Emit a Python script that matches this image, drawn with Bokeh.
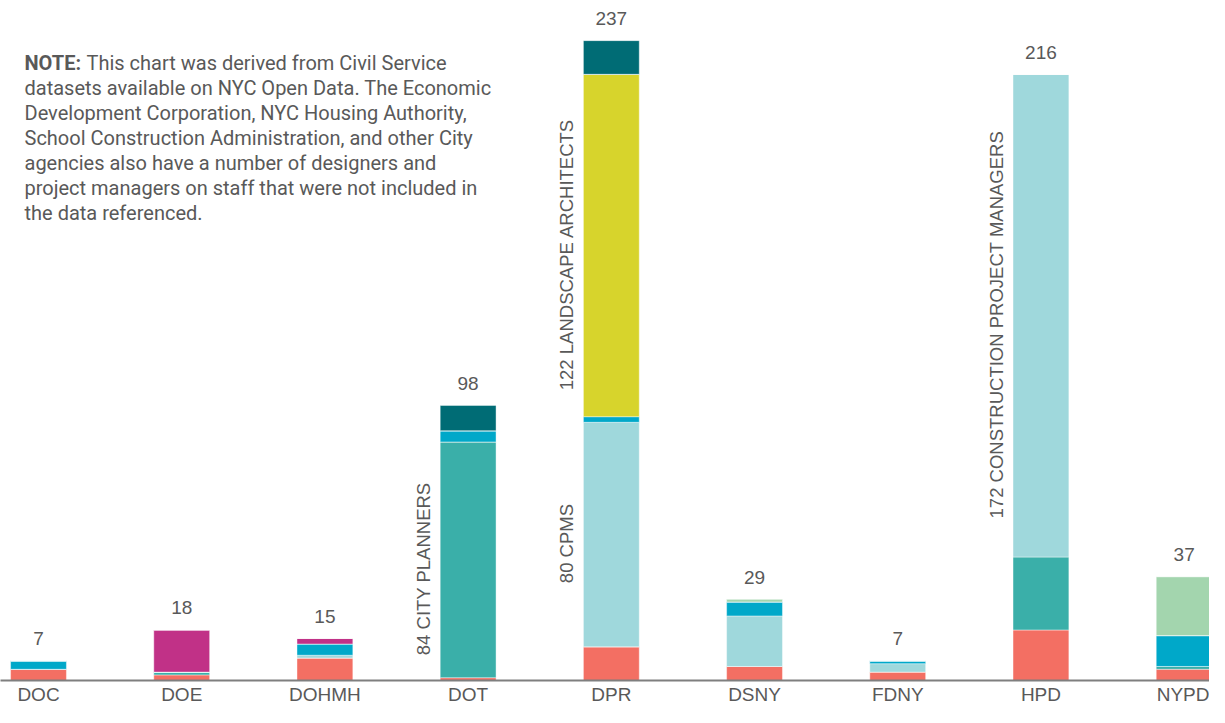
import math
from bokeh.plotting import figure
from bokeh.models import Range1d, FixedTicker, ColumnDataSource, Label
from bokeh.core.properties import value
from bokeh.embed import file_html
from bokeh.resources import INLINE

# ---------------- data ----------------
agencies = ["DOC", "DOE", "DOHMH", "DOT", "DPR", "DSNY", "FDNY", "HPD", "NYPD"]
coral = [4, 2, 8, 1, 12, 5, 3, 18, 4]
teal = [0, 1, 0, 84, 0, 0, 0, 26, 1]
lightblue = [0, 0, 1, 0, 80, 18, 3, 172, 0]
blue = [3, 0, 4, 4, 2, 5, 1, 0, 11]
yellow = [0, 0, 0, 0, 122, 0, 0, 0, 0]
magenta = [0, 15, 2, 0, 0, 0, 0, 0, 0]
green = [0, 0, 0, 0, 0, 1, 0, 0, 21]
darkteal = [0, 0, 0, 9, 12, 0, 0, 0, 0]
totals = [7, 18, 15, 98, 237, 29, 7, 216, 37]

# callouts: (agency, series, text)
callout_agency = ["DOT", "DPR", "DPR", "HPD"]
callout_series = ["teal", "lightblue", "yellow", "lightblue"]
callout_text = ["84 CITY PLANNERS", "80 CPMS", "122 LANDSCAPE ARCHITECTS",
                "172 CONSTRUCTION PROJECT MANAGERS"]

note_lines = [
    "This chart was derived from Civil Service",
    "datasets available on NYC Open Data. The Economic",
    "Development Corporation, NYC Housing Authority,",
    "School Construction Administration, and other City",
    "agencies also have a number of designers and",
    "project managers on staff that were not included in",
    "the data referenced.",
]

series = ["coral", "teal", "lightblue", "blue", "yellow", "magenta", "green", "darkteal"]
series_vals = [coral, teal, lightblue, blue, yellow, magenta, green, darkteal]
colors = ["#F36F63", "#3AAFA9", "#9FD8DC", "#00A8C9", "#D7D42C", "#C13187",
          "#A3D5AE", "#006C75"]

# ---------------- figure ----------------
TXT = "#595959"
xs = list(range(len(agencies)))
data = {"x": xs}
for name, vals in zip(series, series_vals):
    data[name] = vals
source = ColumnDataSource(data)

p = figure(width=1209, height=707, output_backend="svg", toolbar_location=None,
           x_range=Range1d(-0.2654, 8.177), y_range=Range1d(0, 242.3),
           min_border_left=0, min_border_right=0, min_border_top=0,
           min_border_bottom=26)
p.outline_line_color = None
p.xgrid.visible = False
p.ygrid.visible = False
p.yaxis.visible = False
p.background_fill_color = "white"
p.border_fill_color = "white"

p.vbar_stack(series, x="x", width=0.39, color=colors, source=source,
             line_color="white", line_width=0.6, line_alpha=0.7)

xa = p.xaxis[0]
xa.ticker = FixedTicker(ticks=xs)
xa.major_label_overrides = {i: a for i, a in enumerate(agencies)}
xa.axis_line_color = "#7f7f7f"
xa.axis_line_width = 2
xa.major_tick_line_color = None
xa.minor_tick_line_color = None
xa.major_tick_out = 0
xa.major_tick_in = 0
xa.major_label_standoff = 3
xa.major_label_text_font = "Liberation Sans"
xa.major_label_text_font_size = "19px"
xa.major_label_text_color = TXT

# totals above bars
stack_tops = [sum(v[i] for v in series_vals) for i in xs]
p.text(x=xs, y=stack_tops, text=[str(t) for t in totals], y_offset=-22,
       text_align="center", text_baseline="middle",
       text_font=value("Liberation Sans"), text_font_size="19px", text_color=TXT)

# rotated callouts centered on their segment, left of the bar
cx, cy = [], []
for ag, se in zip(callout_agency, callout_series):
    i = agencies.index(ag)
    k = series.index(se)
    base = sum(series_vals[j][i] for j in range(k))
    cx.append(i - 0.31)
    cy.append(base + series_vals[k][i] / 2)
p.text(x=cx, y=cy, text=callout_text, angle=math.pi / 2, y_offset=9,
       text_align="center", text_baseline="middle",
       text_font=value("Liberation Sans"), text_font_size="18.5px", text_color=TXT)

# note
frame_h = 707 - 26
top_line = frame_h - 63
p.add_layout(Label(x=24, y=top_line, x_units="screen", y_units="screen", text="NOTE:",
                   text_font="Roboto", text_font_style="bold", text_font_size="20px",
                   text_color=TXT, text_baseline="middle"))
for k, line in enumerate(note_lines):
    p.add_layout(Label(x=86 if k == 0 else 24, y=top_line - 25.15 * k,
                       x_units="screen", y_units="screen", text=line,
                       text_font="Roboto", text_font_size="20px",
                       text_color=TXT, text_baseline="middle"))

open("out.html", "w").write(file_html(p, INLINE))
